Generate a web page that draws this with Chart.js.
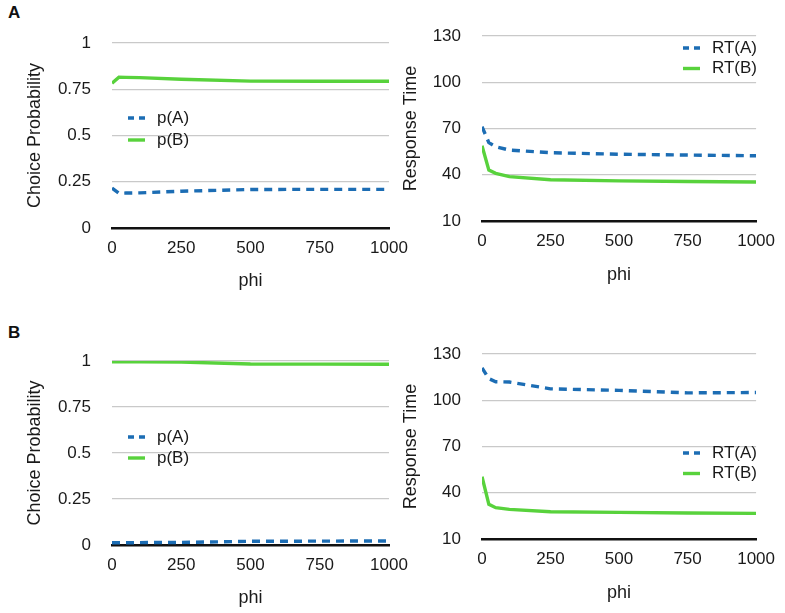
<!DOCTYPE html>
<html>
<head>
<meta charset="utf-8">
<script src="https://cdn.jsdelivr.net/npm/chart.js@4.4.1/dist/chart.umd.min.js"></script>
<style>
  body { margin: 0; background: #fff; width: 785px; height: 613px; position: relative; overflow: hidden;
         font-family: "Liberation Sans", Arial, Helvetica, sans-serif; }
  .panel { position: absolute; }
  .tag { position: absolute; font-weight: bold; font-size: 17px; color: #111; }
</style>
</head>
<body>
<div class="tag" style="left:8px;top:3px">A</div>
<div class="tag" style="left:8px;top:323px">B</div>
<div class="panel" style="left:0;top:0;width:420px;height:300px"><canvas id="probA"></canvas></div>
<div class="panel" style="left:395px;top:0;width:390px;height:300px"><canvas id="rtA"></canvas></div>
<div class="panel" style="left:0;top:305px;width:420px;height:308px"><canvas id="probB"></canvas></div>
<div class="panel" style="left:395px;top:305px;width:390px;height:308px"><canvas id="rtB"></canvas></div>

<script>
// phi values (x axis)
const phi = [0, 25, 50, 100, 250, 500, 750, 1000];

// panel A
const condA_pA = [0.216, 0.188, 0.189, 0.190, 0.199, 0.208, 0.209, 0.209];
const condA_pB = [0.782, 0.815, 0.814, 0.813, 0.804, 0.794, 0.793, 0.793];
const condA_rtA = [71.2, 60.8, 58.2, 56.0, 54.3, 53.3, 52.8, 52.3];
const condA_rtB = [58.8, 43.0, 40.9, 38.8, 36.8, 36.0, 35.6, 35.3];

// panel B
const condB_pA = [0.012, 0.012, 0.012, 0.013, 0.014, 0.020, 0.021, 0.022];
const condB_pB = [0.996, 0.996, 0.996, 0.996, 0.994, 0.984, 0.983, 0.982];
const condB_rtA = [121.0, 114.0, 112.0, 111.8, 107.4, 106.4, 104.8, 105.0];
const condB_rtB = [50.4, 32.5, 30.3, 29.2, 27.7, 27.3, 26.9, 26.6];

// tick labels
const phiTicks = [0, 250, 500, 750, 1000];
const probTicks = [0, 0.25, 0.5, 0.75, 1];
const rtTicks = [10, 40, 70, 100, 130];

const BLUE = '#1c6db4';
const GREEN = '#58d23c';
const FONT = '"Liberation Sans", Arial, Helvetica, sans-serif';

Chart.defaults.font.family = FONT;
Chart.defaults.color = '#1a1a1a';

// legend drawn inside the plot area
const insetLegend = {
  id: 'insetLegend',
  afterDatasetsDraw(chart, args, opts) {
    const ctx = chart.ctx;
    ctx.save();
    ctx.font = '17px ' + FONT;
    ctx.textBaseline = 'middle';
    ctx.fillStyle = '#1a1a1a';
    chart.data.datasets.forEach((ds, i) => {
      const y = opts.y + i * opts.gap;
      ctx.beginPath();
      ctx.setLineDash(ds.borderDash.length ? [6, 5] : []);
      ctx.strokeStyle = ds.borderColor;
      ctx.lineWidth = ds.borderWidth;
      ctx.moveTo(opts.x, y);
      ctx.lineTo(opts.x + 17, y);
      ctx.stroke();
      ctx.setLineDash([]);
      ctx.fillText(ds.label, opts.x + 29, y);
    });
    ctx.restore();
  }
};

function series(label, values, dashed) {
  return {
    label: label,
    data: phi.map((x, i) => ({ x: x, y: values[i] })),
    borderColor: dashed ? BLUE : GREEN,
    borderWidth: 3.4,
    borderDash: dashed ? [8, 6] : [],
    pointRadius: 0,
    tension: 0,
    fill: false
  };
}

function makePanel(id, box, yTicks, yTitle, datasets, legend) {
  new Chart(document.getElementById(id), {
    type: 'line',
    data: { datasets: datasets },
    plugins: [insetLegend],
    options: {
      responsive: true,
      maintainAspectRatio: false,
      animation: false,
      layout: { padding: { left: 0, top: box.top, right: box.w - box.right, bottom: 0 } },
      plugins: {
        legend: { display: false },
        tooltip: { enabled: false },
        insetLegend: legend
      },
      scales: {
        x: {
          type: 'linear',
          min: 0,
          max: 1000,
          afterBuildTicks: s => { s.ticks = phiTicks.map(v => ({ value: v })); },
          afterFit: s => { s.height = box.h - box.bottom; },
          grid: { display: false, drawTicks: false },
          border: { display: true, color: '#111', width: 2.5 },
          ticks: { padding: 10, font: { size: 17 }, maxRotation: 0, callback: v => String(v) },
          title: { display: true, text: 'phi', font: { size: 18 }, padding: { top: 0, bottom: box.phiOff - 10.8 } }
        },
        y: {
          min: yTicks[0],
          max: yTicks[yTicks.length - 1],
          afterBuildTicks: s => { s.ticks = yTicks.map(v => ({ value: v })); },
          afterFit: s => { s.width = box.left; },
          grid: {
            drawTicks: false,
            lineWidth: 1.2,
            color: c => (c.tick && c.tick.value === yTicks[0]) ? 'rgba(0,0,0,0)' : '#c9c9c9'
          },
          border: { display: false },
          ticks: { padding: 21, font: { size: 17 }, callback: v => String(v) },
          title: { display: true, text: yTitle, font: { size: 18 }, padding: { top: box.yTitleX - 10.8, bottom: 0 } }
        }
      }
    }
  });
}

makePanel('probA',
  { w: 420, h: 300, left: 112, right: 389, top: 43, bottom: 228, yTitleX: 35, phiOff: 19 },
  probTicks, 'Choice Probability',
  [series('p(A)', condA_pA, true), series('p(B)', condA_pB, false)],
  { x: 128, y: 118, gap: 22 });

makePanel('rtA',
  { w: 390, h: 300, left: 87, right: 364, top: 36, bottom: 221, yTitleX: 16, phiOff: 25 },
  rtTicks, 'Response Time',
  [series('RT(A)', condA_rtA, true), series('RT(B)', condA_rtB, false)],
  { x: 288, y: 48, gap: 20.5 });

makePanel('probB',
  { w: 420, h: 308, left: 112, right: 389, top: 56, bottom: 240, yTitleX: 35, phiOff: 15 },
  probTicks, 'Choice Probability',
  [series('p(A)', condB_pA, true), series('p(B)', condB_pB, false)],
  { x: 128, y: 132, gap: 21 });

makePanel('rtB',
  { w: 390, h: 308, left: 87, right: 364, top: 49, bottom: 234, yTitleX: 16, phiOff: 20 },
  rtTicks, 'Response Time',
  [series('RT(A)', condB_rtA, true), series('RT(B)', condB_rtB, false)],
  { x: 288, y: 148, gap: 20.5 });
</script>
</body>
</html>
